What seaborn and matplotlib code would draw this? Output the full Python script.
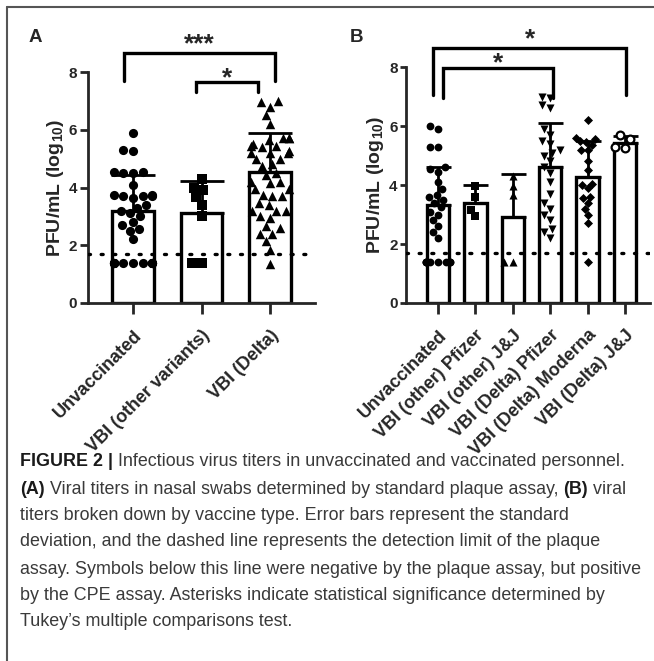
import numpy as np
import pandas as pd
import matplotlib
matplotlib.use("Agg")
import matplotlib.pyplot as plt
from matplotlib.lines import Line2D
import seaborn as sns

try:
    from seaborn.categorical import Beeswarm
except ImportError:
    Beeswarm = None

# ---- data ----
A_CATS = ["Unvaccinated", "VBI (other variants)", "VBI (Delta)"]
A_UNVAC = [5.9, 5.3, 5.25, 4.55, 4.5, 4.5, 4.55, 4.1, 3.75, 3.7, 3.7, 3.65, 3.75, 3.7,
           3.4, 3.3, 3.2, 3.1, 3.0, 2.8, 2.7, 2.55, 2.5, 2.2,
           1.4, 1.4, 1.4, 1.4, 1.4, 1.4, 1.4, 1.4, 1.4, 1.4, 1.4]
A_OTHER = [4.3, 3.9, 4.0, 3.67, 3.4, 3.0, 1.4, 1.4]
A_DELTA = [7.0, 6.95, 6.8, 6.5, 6.2,
           5.7, 5.7, 5.7, 5.65, 5.5, 5.45, 5.45, 5.4, 5.25, 5.2, 5.2, 5.2,
           5.0, 5.0, 4.8, 4.75, 4.5, 4.45, 4.2, 4.2, 4.15, 3.95, 3.95,
           3.75, 3.7, 3.7, 3.45, 3.4, 3.2, 3.2, 3.2, 3.0, 2.95,
           2.65, 2.6, 2.4, 2.4, 2.15, 1.85, 1.35]
A_MEANS = [3.18, 3.12, 4.55]
A_SDS = [1.27, 1.1, 1.33]

B_CATS = ["Unvaccinated", "VBI (other) Pfizer", "VBI (other) J&J",
          "VBI (Delta) Pfizer", "VBI (Delta) Moderna", "VBI (Delta) J&J"]
B_UNVAC = [6.0, 5.9, 5.3, 5.3, 4.6, 4.55, 4.45, 4.1, 3.85, 3.65, 3.6, 3.5, 3.4, 3.25,
           3.1, 3.0, 2.8, 2.6, 2.4, 2.2,
           1.4, 1.4, 1.4, 1.4, 1.4, 1.4, 1.4, 1.4]
B_OTHER_PFIZER = [3.95, 3.6, 3.15, 2.95]
B_OTHER_JJ = [4.3, 3.95, 3.65, 1.4, 1.4]
B_DELTA_PFIZER = [7.0, 6.95, 6.7, 6.6, 5.9, 5.7, 5.5, 5.4, 5.2, 5.1, 5.0, 4.8,
                  4.6, 4.4, 4.1, 3.7, 3.4, 3.2, 3.0, 2.8, 2.5, 2.4, 2.2]
B_DELTA_MODERNA = [6.2, 5.6, 5.55, 5.5, 5.45, 5.35, 5.2, 5.2, 4.8, 4.5, 4.05, 4.0,
                   3.9, 3.6, 3.55, 3.4, 3.2, 3.0, 2.7, 1.4]
B_DELTA_JJ = [5.7, 5.55, 5.3, 5.25]
B_MEANS = [3.32, 3.4, 2.92, 4.6, 4.28, 5.42]
B_SDS = [1.28, 0.6, 1.45, 1.5, 1.2, 0.25]

DETECTION_LIMIT = 1.7

sns.set_style("ticks")
plt.rcParams["font.family"] = ["Liberation Sans", "DejaVu Sans"]
plt.rcParams["font.weight"] = "bold"
plt.rcParams["mathtext.fontset"] = "custom"
plt.rcParams["mathtext.rm"] = "Liberation Sans:bold"
plt.rcParams["mathtext.bf"] = "Liberation Sans:bold"

LW = 2.0


def narrow_swarm(coll, center, width):
    # same beeswarm seaborn uses, just packed into a narrower band
    if Beeswarm is None or len(coll.get_offsets()) == 0:
        return
    swarm = Beeswarm(orient="x", width=width, warn_thresh=1)

    def draw(points, renderer):
        if len(points.get_offsets()) > 0:
            swarm(points, center)
        type(points).draw(points, renderer)
    coll.draw = draw.__get__(coll)


def draw_panel(ax, cats, groups, markers, msizes, means, sds, xlim, swarm_w,
               capsize, ytick_len, open_last=False):
    frame = pd.DataFrame({"group": cats, "mean": means})
    sns.barplot(data=frame, x="group", y="mean", order=cats, color="white",
                edgecolor="black", linewidth=LW * 1.2, width=0.6, ax=ax, zorder=1)
    # upper-only SD bars
    pos = np.arange(len(cats))
    ax.errorbar(pos, means, yerr=[np.zeros(len(sds)), sds], fmt="none",
                ecolor="black", elinewidth=LW, capsize=capsize, capthick=LW, zorder=2)
    ax.axhline(DETECTION_LIMIT, color="black", lw=2.4, ls=(0, (0.6, 3.2)),
               dash_capstyle="round", zorder=3)
    for i, (vals, mk, ms) in enumerate(zip(groups, markers, msizes)):
        pts = pd.DataFrame({"group": cats[i], "val": vals})
        n_before = len(ax.collections)
        if open_last and i == len(groups) - 1:
            sns.swarmplot(data=pts, x="group", y="val", order=cats, marker=mk,
                          size=ms, color="white", edgecolor="black", linewidth=1.6,
                          warn_thresh=1, ax=ax, zorder=4)
        else:
            sns.swarmplot(data=pts, x="group", y="val", order=cats, marker=mk,
                          size=ms, color="black", warn_thresh=1, ax=ax, zorder=4)
        for coll in ax.collections[n_before:]:
            narrow_swarm(coll, i, swarm_w)
    ax.set_xlim(*xlim)
    ax.set_ylim(0, 8)
    ax.set_yticks([0, 2, 4, 6, 8])
    ax.set_xlabel("")
    ax.set_ylabel(r"PFU/mL (log$_{\mathbf{10}}$)", fontsize=14, fontweight="bold", labelpad=2)
    sns.despine(ax=ax)
    for s in ["left", "bottom"]:
        ax.spines[s].set_linewidth(LW)
    ax.tick_params(axis="y", width=LW, length=ytick_len, labelsize=11, pad=2)
    ax.tick_params(axis="x", width=LW, length=8, labelsize=13, pad=9)
    ax.set_xticks(pos)
    ax.set_xticklabels(cats, rotation=45, ha="right", rotation_mode="anchor",
                       fontweight="bold")


def bracket(ax, x0, x1, y_top, y0_left, y0_right, label, label_y, fs):
    ax.plot([x0, x0, x1, x1], [y0_left, y_top, y_top, y0_right], color="black",
            lw=LW * 1.2, clip_on=False, solid_joinstyle="miter")
    ax.text((x0 + x1) / 2, label_y, label, ha="center", va="baseline",
            fontsize=fs, fontweight="bold", clip_on=False)


fig = plt.figure(figsize=(6.54, 6.61), dpi=100)
W, H = 654, 661

axA = fig.add_axes([88 / W, 1 - 303 / H, (315 - 88) / W, (303 - 72) / H])
draw_panel(axA, A_CATS, [A_UNVAC, A_OTHER, A_DELTA], ["o", "s", "^"],
           [6.6, 6.6, 6.8], A_MEANS, A_SDS, (-0.657, 2.657), 0.55, 16, 6)
bracket(axA, -0.13, 2.07, 8.66, 7.69, 7.69, "***", 8.7, 19)
bracket(axA, 0.92, 1.82, 7.65, 7.31, 7.31, "*", 7.54, 19)

axB = fig.add_axes([406 / W, 1 - 303 / H, (650 - 406) / W, (303 - 67) / H])
draw_panel(axB, B_CATS,
           [B_UNVAC, B_OTHER_PFIZER, B_OTHER_JJ, B_DELTA_PFIZER, B_DELTA_MODERNA, B_DELTA_JJ],
           ["o", "s", "^", "v", "D", "o"], [5.6, 5.4, 5.8, 5.8, 4.6, 5.6],
           B_MEANS, B_SDS, (-0.856, 5.67), 0.62, 9, 4, open_last=True)
bracket(axB, -0.13, 5.04, 8.64, 7.05, 7.05, "*", 8.69, 19)
bracket(axB, 0.13, 3.07, 7.97, 6.95, 6.95, "*", 7.89, 19)

fig.text(35 / W, 1 - 37 / H, "A", fontsize=13.5, fontweight="bold", ha="center", va="center")
fig.text(357 / W, 1 - 38 / H, "B", fontsize=13.5, fontweight="bold", ha="center", va="center")

# outer frame (left and top rule)
fig.add_artist(Line2D([7 / W, 7 / W], [0, 1 - 7 / H], color="#555555", lw=1.5,
                      transform=fig.transFigure))
fig.add_artist(Line2D([7 / W, 1], [1 - 7 / H, 1 - 7 / H], color="#555555", lw=1.5,
                      transform=fig.transFigure))

# caption
CAPTION = [
    [("FIGURE 2 |", True), (" Infectious virus titers in unvaccinated and vaccinated personnel.", False)],
    [("(A)", True), (" Viral titers in nasal swabs determined by standard plaque assay, ", False),
     ("(B)", True), (" viral", False)],
    [("titers broken down by vaccine type. Error bars represent the standard", False)],
    [("deviation, and the dashed line represents the detection limit of the plaque", False)],
    [("assay. Symbols below this line were negative by the plaque assay, but positive", False)],
    [("by the CPE assay. Asterisks indicate statistical significance determined by", False)],
    [("Tukey\u2019s multiple comparisons test.", False)],
]
CAP_Y = [462, 489, 515, 542, 569, 595, 622]
CAP_X0, CAP_X1 = 20, 638
renderer = fig.canvas.get_renderer()

cap_lines = []
for runs, yy in zip(CAPTION, CAP_Y):
    line = []
    for txt, bold in runs:
        t = fig.text(CAP_X0 / W, 1 - yy / H, txt, fontsize=13,
                     fontweight="bold" if bold else "normal",
                     color="#1a1a1a" if bold else "#3a3a3a", ha="left", va="center")
        line.append(t)
    cap_lines.append(line)


def place_caption(size):
    widest = 0
    for line in cap_lines:
        x = CAP_X0
        for t in line:
            t.set_fontsize(size)
            t.set_x(x / W)
            x += t.get_window_extent(renderer=renderer).width
        widest = max(widest, x - CAP_X0)
    return widest


widest = place_caption(13)
place_caption(13 * (CAP_X1 - CAP_X0) / widest)

fig.savefig("out.png", dpi=100)
